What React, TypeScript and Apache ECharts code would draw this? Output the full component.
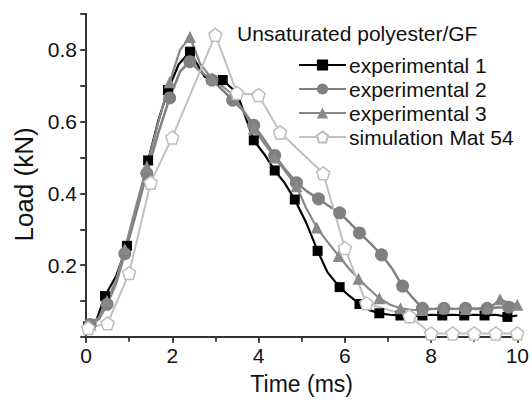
import React, { useEffect, useRef } from "react";
import * as echarts from "echarts";

// Experimental 1 (black squares); markers at even indices
const exp1T = [0.05, 0.25, 0.44, 0.7, 0.95, 1.2, 1.44, 1.67, 1.9, 2.15, 2.41, 2.75, 3.17, 3.5, 3.89, 4.13, 4.375, 4.6, 4.84, 5.1, 5.37, 5.6, 5.88, 6.1, 6.34, 6.57, 6.8, 7.05, 7.29, 7.55, 7.8, 8.03, 8.26, 8.5, 8.77, 9.0, 9.24, 9.5, 9.77, 10.0];
const exp1Y = [0.03, 0.05, 0.114, 0.17, 0.254, 0.37, 0.492, 0.6, 0.688, 0.76, 0.795, 0.725, 0.716, 0.68, 0.548, 0.51, 0.464, 0.43, 0.383, 0.32, 0.24, 0.18, 0.139, 0.115, 0.092, 0.075, 0.066, 0.062, 0.06, 0.058, 0.06, 0.062, 0.06, 0.062, 0.06, 0.062, 0.06, 0.062, 0.056, 0.06];

// Experimental 2 (grey circles)
const exp2T = [0.1, 0.3, 0.49, 0.7, 0.9, 1.15, 1.41, 1.68, 1.94, 2.18, 2.41, 2.65, 2.92, 3.15, 3.4, 3.65, 3.89, 4.13, 4.375, 4.63, 4.88, 5.13, 5.39, 5.63, 5.88, 6.1, 6.34, 6.6, 6.85, 7.1, 7.34, 7.57, 7.8, 8.05, 8.3, 8.55, 8.8, 9.05, 9.3, 9.55, 9.8, 10.0];
const exp2Y = [0.035, 0.05, 0.091, 0.15, 0.232, 0.34, 0.456, 0.57, 0.666, 0.74, 0.767, 0.74, 0.716, 0.69, 0.66, 0.63, 0.59, 0.55, 0.506, 0.465, 0.43, 0.405, 0.385, 0.365, 0.346, 0.32, 0.29, 0.26, 0.229, 0.19, 0.142, 0.11, 0.08, 0.078, 0.08, 0.078, 0.08, 0.078, 0.08, 0.082, 0.083, 0.09];

// Experimental 3 (grey triangles)
const exp3T = [0.1, 0.3, 0.49, 0.7, 0.9, 1.15, 1.41, 1.68, 1.94, 2.18, 2.41, 2.65, 2.92, 3.15, 3.4, 3.65, 3.89, 4.13, 4.375, 4.63, 4.88, 5.1, 5.35, 5.6, 5.86, 6.1, 6.32, 6.55, 6.8, 7.05, 7.29, 7.55, 7.8, 8.05, 8.3, 8.55, 8.8, 9.05, 9.3, 9.45, 9.6, 9.8, 10.0];
const exp3Y = [0.035, 0.055, 0.1, 0.16, 0.245, 0.36, 0.475, 0.6, 0.71, 0.8, 0.836, 0.76, 0.72, 0.7, 0.675, 0.63, 0.58, 0.54, 0.5, 0.46, 0.42, 0.36, 0.305, 0.265, 0.226, 0.19, 0.162, 0.135, 0.108, 0.09, 0.08, 0.076, 0.075, 0.078, 0.08, 0.078, 0.078, 0.08, 0.08, 0.09, 0.105, 0.095, 0.09];

// Simulation Mat 54 (open pentagons), every point a marker
const simT = [0.05, 0.5, 1, 1.5, 2, 3, 3.5, 4, 4.5, 5.5, 6, 6.5, 7.5, 8, 8.5, 9, 9.5, 10];
const simY = [0.025, 0.038, 0.178, 0.43, 0.556, 0.842, 0.68, 0.674, 0.57, 0.456, 0.248, 0.094, 0.058, 0.01, 0.01, 0.01, 0.01, 0.01];

const seriesNames = ["experimental 1", "experimental 2", "experimental 3", "simulation Mat 54"];
const legendTitle = "Unsaturated polyester/GF";
const xName = "Time (ms)";
const yName = "Load (kN)";
const yLabelValues = [0.2, 0.4, 0.6, 0.8];

const FONT = "Liberation Sans, Arial, sans-serif";
const PENTAGON = "path://M0,-10 L9.51,-3.09 L5.88,8.09 L-5.88,8.09 L-9.51,-3.09 Z";

function alternating(t: number[], y: number[]) {
  return t.map((tv, i) =>
    i % 2 === 0 ? { value: [tv, y[i]] } : { value: [tv, y[i]], symbol: "none" }
  );
}

export default function App() {
  const ref = useRef<HTMLDivElement>(null);
  useEffect(() => {
    if (!ref.current) return;
    const chart = echarts.init(ref.current, undefined, { renderer: "svg" });
    const axisColor = "#333";
    chart.setOption({
      animation: false,
      backgroundColor: "#fff",
      textStyle: { fontFamily: FONT },
      grid: { left: 86, right: 14, top: 14, bottom: 65 },
      title: {
        text: legendTitle,
        left: 237,
        top: 23,
        padding: 0,
        textStyle: { fontFamily: FONT, fontSize: 21, fontWeight: "normal", color: "#111" },
      },
      legend: {
        orient: "vertical",
        left: 298,
        top: 54,
        padding: 0,
        itemWidth: 47,
        itemHeight: 14,
        itemGap: 2,
        data: seriesNames,
        textStyle: { fontFamily: FONT, fontSize: 21, color: "#111", lineHeight: 22, padding: [0, 0, 0, -2] },
      },
      xAxis: [
        {
          type: "value",
          min: 0,
          max: 10,
          interval: 2,
          name: xName,
          nameLocation: "middle",
          nameGap: 35,
          nameTextStyle: { fontFamily: FONT, fontSize: 23, color: "#111" },
          axisLine: { show: true, lineStyle: { color: axisColor, width: 2 } },
          axisTick: { show: true, inside: false, length: 6, lineStyle: { color: axisColor, width: 1.5 } },
          minorTick: { show: true, splitNumber: 2, length: 3, lineStyle: { color: axisColor, width: 1.5 } },
          axisLabel: { fontFamily: FONT, fontSize: 21, color: "#111", margin: 8 },
          splitLine: { show: false },
        },
        {
          type: "value",
          position: "top",
          min: 0,
          max: 10,
          interval: 1,
          axisLine: { show: true, lineStyle: { color: axisColor, width: 2 } },
          axisTick: { show: true, inside: true, length: 5, lineStyle: { color: axisColor, width: 1.5 } },
          axisLabel: { show: false },
          splitLine: { show: false },
        },
      ],
      yAxis: [
        {
          type: "value",
          min: 0,
          max: 0.9,
          interval: 0.1,
          name: yName,
          nameLocation: "middle",
          nameGap: 46,
          nameTextStyle: { fontFamily: FONT, fontSize: 26, color: "#111", padding: [0, 18, 0, 0] },
          axisLine: { show: true, lineStyle: { color: axisColor, width: 2 } },
          axisTick: { show: true, inside: false, length: 6, lineStyle: { color: axisColor, width: 1.5 } },
          axisLabel: {
            fontFamily: FONT,
            fontSize: 21,
            color: "#111",
            margin: 9,
            formatter: (v: number) =>
              yLabelValues.some((l) => Math.abs(l - v) < 1e-6) ? v.toFixed(1) : "",
          },
          splitLine: { show: false },
        },
        {
          type: "value",
          position: "right",
          min: 0,
          max: 0.9,
          interval: 0.1,
          axisLine: { show: true, lineStyle: { color: axisColor, width: 2 } },
          axisTick: { show: true, inside: true, length: 5, lineStyle: { color: axisColor, width: 1.5 } },
          axisLabel: { show: false },
          splitLine: { show: false },
        },
      ],
      series: [
        {
          name: seriesNames[0],
          type: "line",
          data: alternating(exp1T, exp1Y),
          symbol: "rect",
          symbolSize: 10,
          showAllSymbol: true,
          lineStyle: { color: "#000", width: 2.2 },
          itemStyle: { color: "#000" },
        },
        {
          name: seriesNames[1],
          type: "line",
          data: alternating(exp2T, exp2Y),
          symbol: "circle",
          symbolSize: 13,
          showAllSymbol: true,
          lineStyle: { color: "#808080", width: 2.5 },
          itemStyle: { color: "#808080" },
        },
        {
          name: seriesNames[2],
          type: "line",
          data: alternating(exp3T, exp3Y),
          symbol: "triangle",
          symbolSize: 12,
          showAllSymbol: true,
          lineStyle: { color: "#888", width: 2.2 },
          itemStyle: { color: "#888" },
        },
        {
          name: seriesNames[3],
          type: "line",
          data: simT.map((t, i) => [t, simY[i]]),
          symbol: PENTAGON,
          symbolSize: 13,
          showAllSymbol: true,
          lineStyle: { color: "#c0c0c0", width: 2 },
          itemStyle: { color: "#fff", borderColor: "#bdbdbd", borderWidth: 1.5 },
        },
      ],
    });
    return () => chart.dispose();
  }, []);
  return <div ref={ref} style={{ width: 532, height: 402, position: "absolute", left: 0, top: 0 }} />;
}
